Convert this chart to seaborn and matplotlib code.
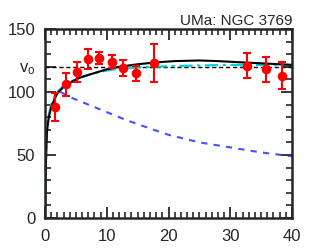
import numpy as np
import pandas as pd
import seaborn as sns
import matplotlib
matplotlib.use("Agg")
import matplotlib.pyplot as plt
from matplotlib.ticker import MultipleLocator

# Rotation curve data: radius (kpc), velocity (km/s), error
radius = [1.6, 3.4, 5.2, 7.0, 8.7, 10.8, 12.6, 14.7, 17.6, 32.7, 35.8, 38.4]
velocity = [88, 106, 116, 126, 127, 124, 119, 115, 123, 121, 118, 113]
error = [11, 9, 8, 8, 5, 5, 6, 6, 15, 10, 10, 11]

# model curves
r_total = [0, 0.1, 0.3, 0.6, 1, 1.5, 2, 3, 4, 5, 6, 8, 10, 12, 15, 18, 21, 25, 28, 32, 36, 40]
v_total = [0, 35, 68, 80, 88, 94, 99, 104, 107, 110, 112, 115, 118, 120, 122, 123.5, 124.5, 125, 124.5, 123.5, 122.5, 121.5]

r_cyan = [0, 0.1, 0.3, 0.6, 1, 1.5, 2, 3, 4, 5, 6, 8, 10, 12, 15, 20, 25, 30, 40]
v_cyan = [0, 40, 70, 82, 90, 96, 100, 105, 108, 110, 112, 115, 117, 118.5, 119.5, 120.5, 121, 121.5, 121.5]

r_disk = [2.5, 4, 6, 8, 10, 13, 17, 20, 25, 30, 35, 40]
v_disk = [100, 96, 92, 88, 84, 78, 71, 66, 60, 56, 52, 49]

v0 = 120

sns.set_style("ticks")
plt.rcParams['font.family'] = ['Liberation Sans', 'DejaVu Sans']
plt.rcParams['mathtext.default'] = 'regular'

fig = plt.figure(figsize=(3.15, 2.52), dpi=100)
ax = fig.add_axes([0.143, 0.135, 0.784, 0.75])

ax.axhline(v0, color='black', lw=1, dashes=(3, 2))
sns.lineplot(x=r_disk, y=v_disk, ax=ax, color='#2233ff', lw=1.5, alpha=0.85)
ax.lines[-1].set_dashes((3, 3))
sns.lineplot(x=r_cyan, y=v_cyan, ax=ax, color='#00d0d8', lw=1.6)
ax.lines[-1].set_dashes((6, 2, 1.5, 2))
sns.lineplot(x=r_total, y=v_total, ax=ax, color='black', lw=1.5)

ax.errorbar(radius, velocity, yerr=error, fmt='none', ecolor='red',
            elinewidth=1.5, capsize=3, capthick=1.5, zorder=4)
sns.scatterplot(x=radius, y=velocity, ax=ax, color='red', s=48,
                edgecolor='red', linewidth=0, zorder=5)

ax.set_xlim(0, 40)
ax.set_ylim(0, 150)
ax.set_xticks([0, 10, 20, 30, 40])
ax.xaxis.set_minor_locator(MultipleLocator(1))
ax.set_yticks([0, 50, 100, 150, v0])
ax.set_yticklabels(['0', '50', '100', '150', 'v$_o$'])
ax.yaxis.set_minor_locator(MultipleLocator(10))
ax.tick_params(which='major', direction='in', length=8, width=1.3,
               top=True, right=True, labelsize=12)
ax.tick_params(axis='x', which='major', pad=8)
ax.tick_params(axis='y', which='major', pad=7)
ax.tick_params(which='minor', direction='in', length=4, width=1.2,
               top=True, right=True)
for s in ax.spines.values():
    s.set_linewidth(1.8)

ax.set_title('UMa: NGC 3769', loc='right', fontsize=11, pad=3)

fig.savefig('out.png', dpi=100)
